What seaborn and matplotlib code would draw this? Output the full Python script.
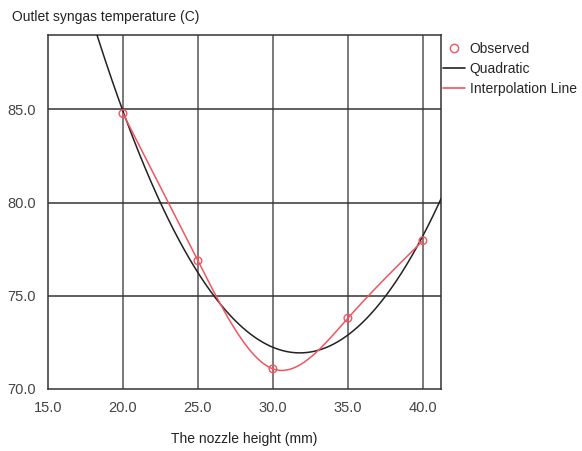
import numpy as np
import pandas as pd
import matplotlib
matplotlib.use('Agg')
import matplotlib.pyplot as plt
import seaborn as sns
from matplotlib.lines import Line2D

nozzle_height = [20, 25, 30, 35, 40]
outlet_temp = [84.78, 76.88, 71.08, 73.80, 77.96]

x_ticks = [15.0, 20.0, 25.0, 30.0, 35.0, 40.0]
y_ticks = [70.0, 75.0, 80.0, 85.0]

red = '#f25560'
dark = '#222222'

df = pd.DataFrame({'height': nozzle_height, 'temp': outlet_temp})

# quadratic least squares fit
coef = np.polyfit(df['height'], df['temp'], 2)
xq = np.linspace(15, 41.3, 300)
quad = pd.DataFrame({'height': xq, 'temp': np.polyval(coef, xq)})


# natural cubic spline through the observed points
def natural_spline(x, y, xs):
    x = np.asarray(x, float)
    y = np.asarray(y, float)
    n = len(x)
    h = np.diff(x)
    A = np.zeros((n, n))
    b = np.zeros(n)
    A[0, 0] = A[-1, -1] = 1
    for i in range(1, n - 1):
        A[i, i - 1] = h[i - 1]
        A[i, i] = 2 * (h[i - 1] + h[i])
        A[i, i + 1] = h[i]
        b[i] = 3 * ((y[i + 1] - y[i]) / h[i] - (y[i] - y[i - 1]) / h[i - 1])
    c = np.linalg.solve(A, b)
    out = []
    for xv in xs:
        i = min(np.searchsorted(x, xv, side='right') - 1, n - 2)
        dx = xv - x[i]
        bi = (y[i + 1] - y[i]) / h[i] - h[i] * (2 * c[i] + c[i + 1]) / 3
        di = (c[i + 1] - c[i]) / (3 * h[i])
        out.append(y[i] + bi * dx + c[i] * dx ** 2 + di * dx ** 3)
    return np.array(out)


xs = np.linspace(20, 40, 300)
interp = pd.DataFrame({'height': xs, 'temp': natural_spline(nozzle_height, outlet_temp, xs)})

sns.set_style('white')
plt.rcParams['font.family'] = ['Liberation Sans', 'DejaVu Sans']

fig = plt.figure(figsize=(5.82, 4.51), dpi=100)
ax = fig.add_axes([0.0825, 0.1375, 0.675, 0.785])

for xt in x_ticks[1:]:
    ax.axvline(xt, color='#555555', lw=1.1, zorder=1)
for yt in y_ticks[1:]:
    ax.axhline(yt, color='#333333', lw=1.1, zorder=1)

sns.lineplot(data=quad, x='height', y='temp', ax=ax, color=dark, lw=1.1, zorder=3)
sns.lineplot(data=interp, x='height', y='temp', ax=ax, color=red, lw=1.1, zorder=4)
sns.scatterplot(data=df, x='height', y='temp', ax=ax, marker='o', s=30,
                facecolor='none', edgecolor=red, linewidth=1.0, zorder=5)

ax.set_xlim(15, 41.2)
ax.set_ylim(70, 89)
ax.set_xticks(x_ticks)
ax.set_yticks(y_ticks)
ax.set_xticklabels([f'{v:.1f}' for v in x_ticks])
ax.set_yticklabels([f'{v:.1f}' for v in y_ticks])
ax.tick_params(direction='inout', length=8, width=1, color='#333333',
               labelsize=10.5, labelcolor='#444444', pad=5)
for spine in ax.spines.values():
    spine.set_visible(True)
    spine.set_color('#333333')
    spine.set_linewidth(1.1)

ax.set_xlabel('The nozzle height (mm)', fontsize=10, color='#222222', labelpad=12)
ax.set_ylabel('')
fig.text(0.021, 0.962, 'Outlet syngas temperature (C)', fontsize=10,
         color='#222222', va='center', ha='left')

handles = [
    Line2D([], [], marker='o', ls='none', mfc='none', mec=red, ms=6),
    Line2D([], [], color=dark, lw=1.2),
    Line2D([], [], color=red, lw=1.2),
]
fig.legend(handles, ['Observed', 'Quadratic', 'Interpolation Line'],
           loc='upper left', bbox_to_anchor=(0.752, 0.92), frameon=False,
           fontsize=10, handlelength=1.6, handletextpad=0.3, labelspacing=0.45,
           borderaxespad=0)

fig.savefig('out.png', dpi=100)
